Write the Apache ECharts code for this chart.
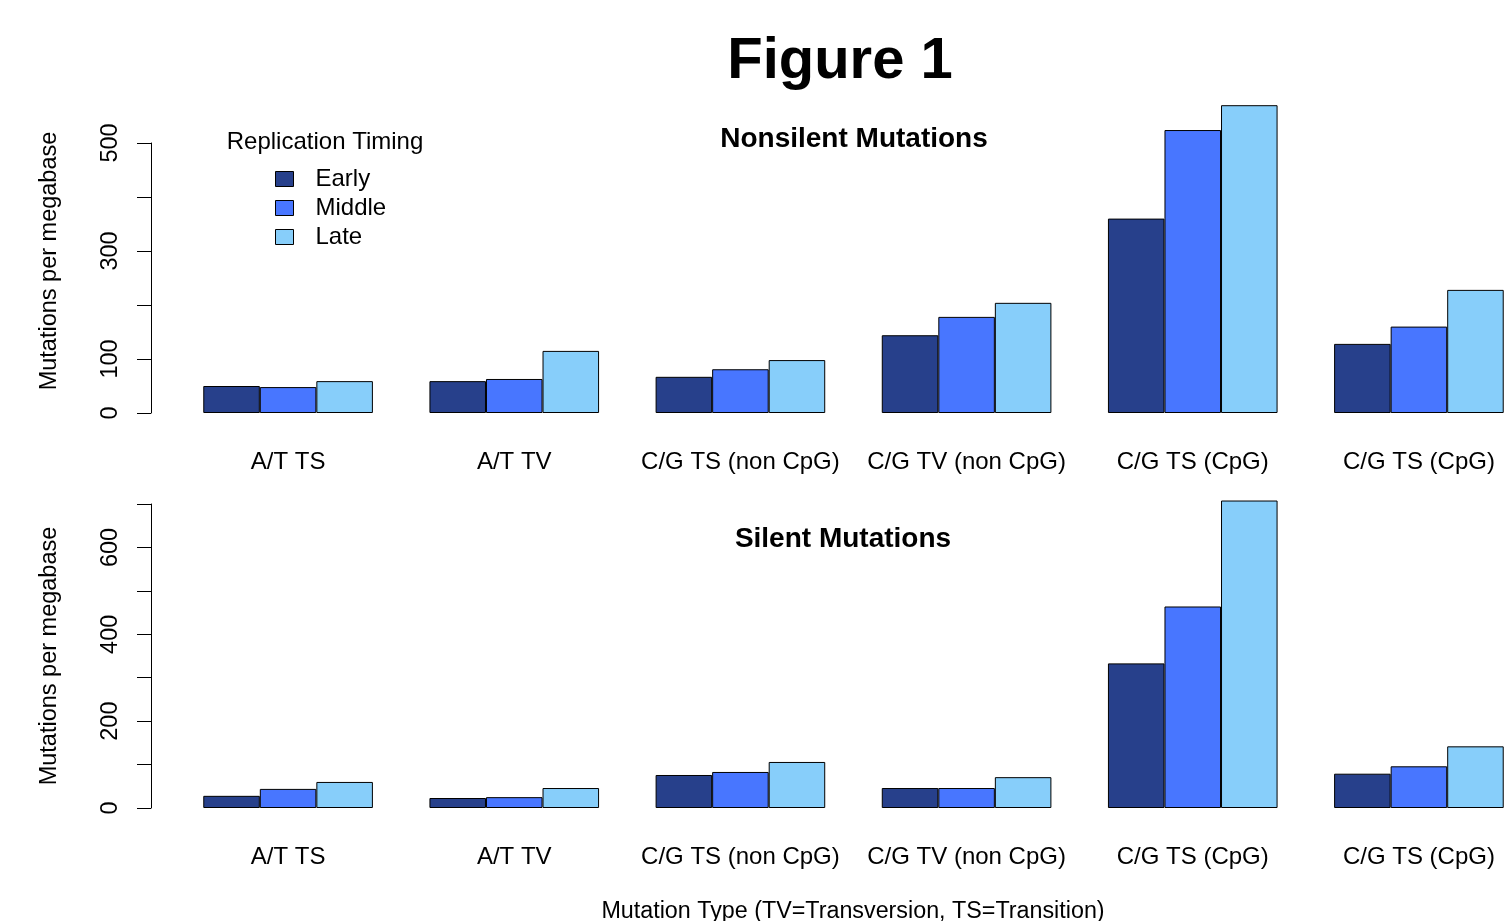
<!DOCTYPE html>
<html>
<head>
<meta charset="utf-8">
<title>Figure 1</title>
<script src="https://cdn.jsdelivr.net/npm/echarts@6/dist/echarts.min.js"></script>
<style>
  html, body { margin: 0; padding: 0; background: #fff; overflow: hidden; }
  /* a bit wider than the window: the last group of bars touches the right edge */
  #chart { width: 1540px; height: 921px; }
</style>
</head>
<body>
<div id="chart"></div>
<script>
  // mutation types, shared by both panels
  var categories = ['A/T TS', 'A/T TV', 'C/G TS (non CpG)', 'C/G TV (non CpG)', 'C/G TS (CpG)', 'C/G TS (CpG)'];
  var timings = ['Early', 'Middle', 'Late'];

  // Nonsilent panel (mutations per megabase)
  var nonsilentEarly = [50, 59, 67, 144, 360, 128];
  var nonsilentMiddle = [48, 63, 81, 178, 524, 160];
  var nonsilentLate = [59, 115, 98, 204, 570, 228];

  // Silent panel
  var silentEarly = [28, 23, 76, 46, 333, 79];
  var silentMiddle = [44, 25, 83, 46, 464, 96];
  var silentLate = [60, 46, 106, 71, 708, 142];

  // R only prints some tick labels
  var nonsilentTickLabels = [0, 100, 300, 500];
  var silentTickLabels = [0, 200, 400, 600];

  var colors = ['#27408B', '#4876FF', '#87CEFA'];
  var font = 'Liberation Sans, Arial, Helvetica, sans-serif';

  var chart = echarts.init(document.getElementById('chart'), null, { renderer: 'canvas' });

  function xAxisOf(gridIndex) {
    return {
      type: 'category',
      gridIndex: gridIndex,
      data: categories,
      axisLine: { show: false },
      axisTick: { show: false },
      axisLabel: { color: '#000', fontFamily: font, fontSize: 24, margin: 37, interval: 0 }
    };
  }

  function yAxisOf(gridIndex, max, shown) {
    return {
      type: 'value',
      gridIndex: gridIndex,
      min: 0,
      max: max,
      interval: 100,
      offset: 24,
      splitLine: { show: false },
      axisLine: { show: true, lineStyle: { color: '#000', width: 1 } },
      axisTick: { show: true, length: 14, lineStyle: { color: '#000', width: 1 } },
      axisLabel: {
        color: '#000', fontFamily: font, fontSize: 23.5, rotate: 90, margin: 28,
        formatter: function (v) { return shown.indexOf(v) >= 0 ? String(v) : ''; }
      }
    };
  }

  function barSeries(name, data, idx, color) {
    return {
      name: name,
      type: 'bar',
      xAxisIndex: idx,
      yAxisIndex: idx,
      data: data,
      clip: false,
      barGap: '0%',
      barCategoryGap: '25%',
      itemStyle: { color: color, borderColor: '#000', borderWidth: 1 },
      emphasis: { disabled: true },
      animation: false
    };
  }

  function label(text, x, y, size, weight, rotation) {
    return {
      type: 'text',
      x: x, y: y,
      rotation: rotation || 0,
      style: {
        text: text,
        fill: '#000',
        fontFamily: font,
        fontSize: size,
        fontWeight: weight || 'normal',
        textAlign: 'center',
        textVerticalAlign: 'middle'
      }
    };
  }

  var option = {
    backgroundColor: '#fff',
    color: colors,
    animation: false,
    grid: [
      { left: 175, top: 143, width: 1357, height: 270 },
      { left: 175, top: 504, width: 1357, height: 304 }
    ],
    xAxis: [xAxisOf(0), xAxisOf(1)],
    yAxis: [
      yAxisOf(0, 500, nonsilentTickLabels),
      yAxisOf(1, 700, silentTickLabels)
    ],
    legend: {
      data: timings,
      orient: 'vertical',
      left: 275,
      top: 167,
      padding: 0,
      itemWidth: 18,
      itemHeight: 15,
      itemGap: 5,
      icon: 'rect',
      itemStyle: { borderColor: '#000', borderWidth: 1 },
      textStyle: { color: '#000', fontFamily: font, fontSize: 24, padding: [0, 0, 0, 17] },
      selectedMode: false
    },
    graphic: [
      label('Figure 1', 840, 62, 58, 'bold'),
      label('Nonsilent Mutations', 854, 139, 28, 'bold'),
      label('Silent Mutations', 843, 539, 28, 'bold'),
      label('Replication Timing', 325, 142, 24),
      label('Mutations per megabase', 50, 261, 23.5, 'normal', Math.PI / 2),
      label('Mutations per megabase', 50, 656, 23.5, 'normal', Math.PI / 2),
      label('Mutation Type (TV=Transversion, TS=Transition)', 853, 912, 23.3)
    ],
    series: [
      barSeries('Early', nonsilentEarly, 0, colors[0]),
      barSeries('Middle', nonsilentMiddle, 0, colors[1]),
      barSeries('Late', nonsilentLate, 0, colors[2]),
      barSeries('Early', silentEarly, 1, colors[0]),
      barSeries('Middle', silentMiddle, 1, colors[1]),
      barSeries('Late', silentLate, 1, colors[2])
    ]
  };

  chart.setOption(option);
</script>
</body>
</html>
